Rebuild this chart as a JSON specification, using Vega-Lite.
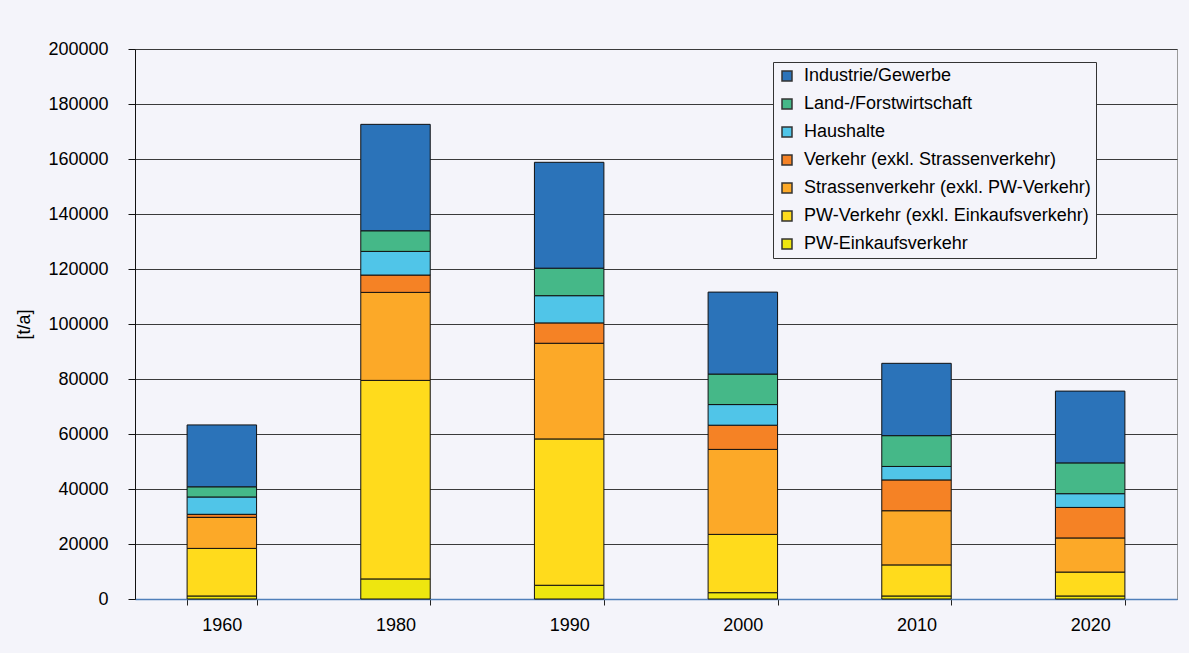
{
  "$schema": "https://vega.github.io/schema/vega-lite/v6.json",
  "width": 1042,
  "height": 550,
  "autosize": {"type": "none"},
  "padding": {"left": 135, "top": 49, "right": 12, "bottom": 54},
  "background": "#F4F4FA",
  "data": {
    "values": [
      {"Jahr": "1960", "Sektor": "PW-Einkaufsverkehr", "Wert": 1100},
      {"Jahr": "1960", "Sektor": "PW-Verkehr (exkl. Einkaufsverkehr)", "Wert": 17300},
      {"Jahr": "1960", "Sektor": "Strassenverkehr (exkl. PW-Verkehr)", "Wert": 11300},
      {"Jahr": "1960", "Sektor": "Verkehr (exkl. Strassenverkehr)", "Wert": 1100},
      {"Jahr": "1960", "Sektor": "Haushalte", "Wert": 6300},
      {"Jahr": "1960", "Sektor": "Land-/Forstwirtschaft", "Wert": 3700},
      {"Jahr": "1960", "Sektor": "Industrie/Gewerbe", "Wert": 22500},
      {"Jahr": "1980", "Sektor": "PW-Einkaufsverkehr", "Wert": 7300},
      {"Jahr": "1980", "Sektor": "PW-Verkehr (exkl. Einkaufsverkehr)", "Wert": 72200},
      {"Jahr": "1980", "Sektor": "Strassenverkehr (exkl. PW-Verkehr)", "Wert": 32000},
      {"Jahr": "1980", "Sektor": "Verkehr (exkl. Strassenverkehr)", "Wert": 6300},
      {"Jahr": "1980", "Sektor": "Haushalte", "Wert": 8600},
      {"Jahr": "1980", "Sektor": "Land-/Forstwirtschaft", "Wert": 7500},
      {"Jahr": "1980", "Sektor": "Industrie/Gewerbe", "Wert": 38700},
      {"Jahr": "1990", "Sektor": "PW-Einkaufsverkehr", "Wert": 5000},
      {"Jahr": "1990", "Sektor": "PW-Verkehr (exkl. Einkaufsverkehr)", "Wert": 53200},
      {"Jahr": "1990", "Sektor": "Strassenverkehr (exkl. PW-Verkehr)", "Wert": 34800},
      {"Jahr": "1990", "Sektor": "Verkehr (exkl. Strassenverkehr)", "Wert": 7400},
      {"Jahr": "1990", "Sektor": "Haushalte", "Wert": 9900},
      {"Jahr": "1990", "Sektor": "Land-/Forstwirtschaft", "Wert": 10000},
      {"Jahr": "1990", "Sektor": "Industrie/Gewerbe", "Wert": 38500},
      {"Jahr": "2000", "Sektor": "PW-Einkaufsverkehr", "Wert": 2300},
      {"Jahr": "2000", "Sektor": "PW-Verkehr (exkl. Einkaufsverkehr)", "Wert": 21200},
      {"Jahr": "2000", "Sektor": "Strassenverkehr (exkl. PW-Verkehr)", "Wert": 30900},
      {"Jahr": "2000", "Sektor": "Verkehr (exkl. Strassenverkehr)", "Wert": 8800},
      {"Jahr": "2000", "Sektor": "Haushalte", "Wert": 7500},
      {"Jahr": "2000", "Sektor": "Land-/Forstwirtschaft", "Wert": 11100},
      {"Jahr": "2000", "Sektor": "Industrie/Gewerbe", "Wert": 29800},
      {"Jahr": "2010", "Sektor": "PW-Einkaufsverkehr", "Wert": 1100},
      {"Jahr": "2010", "Sektor": "PW-Verkehr (exkl. Einkaufsverkehr)", "Wert": 11300},
      {"Jahr": "2010", "Sektor": "Strassenverkehr (exkl. PW-Verkehr)", "Wert": 19700},
      {"Jahr": "2010", "Sektor": "Verkehr (exkl. Strassenverkehr)", "Wert": 11200},
      {"Jahr": "2010", "Sektor": "Haushalte", "Wert": 4900},
      {"Jahr": "2010", "Sektor": "Land-/Forstwirtschaft", "Wert": 11200},
      {"Jahr": "2010", "Sektor": "Industrie/Gewerbe", "Wert": 26300},
      {"Jahr": "2020", "Sektor": "PW-Einkaufsverkehr", "Wert": 1100},
      {"Jahr": "2020", "Sektor": "PW-Verkehr (exkl. Einkaufsverkehr)", "Wert": 8700},
      {"Jahr": "2020", "Sektor": "Strassenverkehr (exkl. PW-Verkehr)", "Wert": 12400},
      {"Jahr": "2020", "Sektor": "Verkehr (exkl. Strassenverkehr)", "Wert": 11100},
      {"Jahr": "2020", "Sektor": "Haushalte", "Wert": 5000},
      {"Jahr": "2020", "Sektor": "Land-/Forstwirtschaft", "Wert": 11200},
      {"Jahr": "2020", "Sektor": "Industrie/Gewerbe", "Wert": 26100}
    ]
  },
  "transform": [
    {"calculate": "indexof(['PW-Einkaufsverkehr','PW-Verkehr (exkl. Einkaufsverkehr)','Strassenverkehr (exkl. PW-Verkehr)','Verkehr (exkl. Strassenverkehr)','Haushalte','Land-/Forstwirtschaft','Industrie/Gewerbe'], datum.Sektor)", "as": "Stapel"}
  ],
  "mark": {"type": "bar", "stroke": "#111111", "strokeWidth": 1},
  "encoding": {
    "x": {
      "field": "Jahr",
      "type": "nominal",
      "scale": {"paddingInner": 0.6, "paddingOuter": 0.3},
      "axis": {
        "title": null,
        "labelAngle": 0,
        "grid": false,
        "ticks": true,
        "tickBand": "extent",
        "tickSize": 6,
        "tickColor": "#222222",
        "domainColor": "#4F7FBA",
        "domainWidth": 1.5,
        "labelPadding": 11
      }
    },
    "y": {
      "field": "Wert",
      "type": "quantitative",
      "stack": "zero",
      "scale": {"domain": [0, 200000], "nice": false},
      "axis": {
        "title": "[t/a]",
        "values": [0, 20000, 40000, 60000, 80000, 100000, 120000, 140000, 160000, 180000, 200000],
        "format": "d",
        "grid": true,
        "gridColor": "#3a3a3a",
        "gridWidth": 1.2,
        "tickSize": 7,
        "tickColor": "#111111",
        "domainColor": "#111111",
        "labelPadding": 20,
        "titlePadding": 14
      }
    },
    "color": {
      "field": "Sektor",
      "type": "nominal",
      "scale": {
        "domain": ["Industrie/Gewerbe", "Land-/Forstwirtschaft", "Haushalte", "Verkehr (exkl. Strassenverkehr)", "Strassenverkehr (exkl. PW-Verkehr)", "PW-Verkehr (exkl. Einkaufsverkehr)", "PW-Einkaufsverkehr"],
        "range": ["#2B73B9", "#45B888", "#50C5E8", "#F58225", "#FCA928", "#FFDB1C", "#EEE60F"]
      },
      "legend": {
        "orient": "none",
        "legendX": 638,
        "legendY": 13,
        "title": null,
        "fillColor": "#F4F4FA",
        "strokeColor": "#333333",
        "padding": 5,
        "rowPadding": 10,
        "labelFontSize": 18,
        "labelLimit": 400,
        "labelOffset": 8,
        "symbolType": "square",
        "symbolSize": 100,
        "symbolStrokeWidth": 1.5,
        "symbolStrokeColor": "#333333",
        "symbolOpacity": 1
      }
    },
    "order": {"field": "Stapel", "type": "quantitative", "sort": "ascending"}
  },
  "config": {
    "font": "Liberation Sans",
    "view": {"stroke": "#9a9a9a", "fill": "#F4F4FA"},
    "axis": {
      "labelFont": "Liberation Sans",
      "labelFontSize": 18,
      "labelColor": "#000000",
      "titleFont": "Liberation Sans",
      "titleFontSize": 18,
      "titleFontWeight": "normal",
      "titleColor": "#000000"
    },
    "legend": {"labelFont": "Liberation Sans", "labelColor": "#000000"}
  }
}
